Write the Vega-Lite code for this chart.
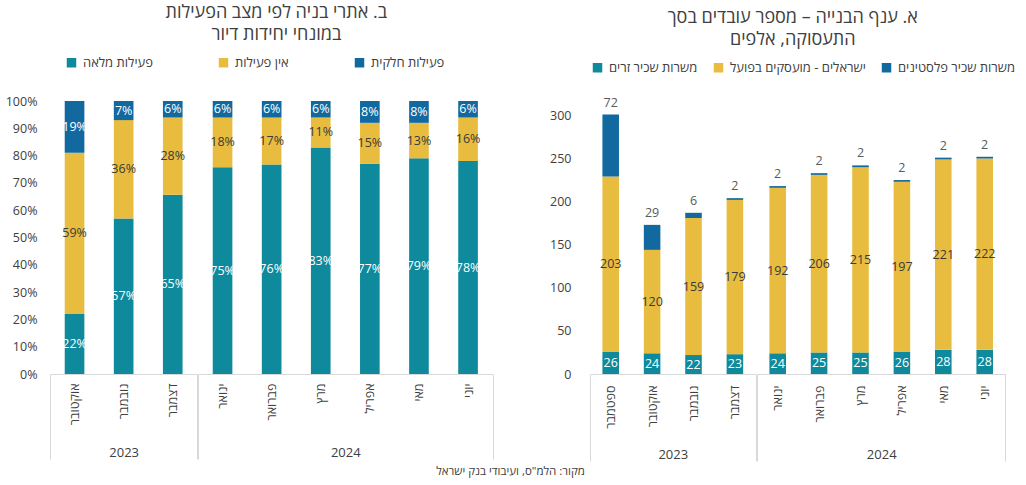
{
  "$schema": "https://vega.github.io/schema/vega-lite/v6.json",
  "padding": {"left": 5, "right": 5, "top": 4, "bottom": 4},
  "config": {
    "font": "Open Sans, Liberation Sans, DejaVu Sans, sans-serif",
    "view": {"stroke": null},
    "axis": {"grid": false},
    "concat": {"spacing": 0}
  },
  "datasets": {
    "left": [
      {"month": "אוקטובר", "year": "2023", "series": "פעילות מלאה", "k": 1, "v": 0.22},
      {"month": "אוקטובר", "year": "2023", "series": "אין פעילות", "k": 2, "v": 0.59},
      {"month": "אוקטובר", "year": "2023", "series": "פעילות חלקית", "k": 3, "v": 0.19},
      {"month": "נובמבר", "year": "2023", "series": "פעילות מלאה", "k": 1, "v": 0.57},
      {"month": "נובמבר", "year": "2023", "series": "אין פעילות", "k": 2, "v": 0.36},
      {"month": "נובמבר", "year": "2023", "series": "פעילות חלקית", "k": 3, "v": 0.07},
      {"month": "דצמבר", "year": "2023", "series": "פעילות מלאה", "k": 1, "v": 0.65},
      {"month": "דצמבר", "year": "2023", "series": "אין פעילות", "k": 2, "v": 0.28},
      {"month": "דצמבר", "year": "2023", "series": "פעילות חלקית", "k": 3, "v": 0.06},
      {"month": "ינואר", "year": "2024", "series": "פעילות מלאה", "k": 1, "v": 0.75},
      {"month": "ינואר", "year": "2024", "series": "אין פעילות", "k": 2, "v": 0.18},
      {"month": "ינואר", "year": "2024", "series": "פעילות חלקית", "k": 3, "v": 0.06},
      {"month": "פברואר", "year": "2024", "series": "פעילות מלאה", "k": 1, "v": 0.76},
      {"month": "פברואר", "year": "2024", "series": "אין פעילות", "k": 2, "v": 0.17},
      {"month": "פברואר", "year": "2024", "series": "פעילות חלקית", "k": 3, "v": 0.06},
      {"month": "מרץ", "year": "2024", "series": "פעילות מלאה", "k": 1, "v": 0.83},
      {"month": "מרץ", "year": "2024", "series": "אין פעילות", "k": 2, "v": 0.11},
      {"month": "מרץ", "year": "2024", "series": "פעילות חלקית", "k": 3, "v": 0.06},
      {"month": "אפריל", "year": "2024", "series": "פעילות מלאה", "k": 1, "v": 0.77},
      {"month": "אפריל", "year": "2024", "series": "אין פעילות", "k": 2, "v": 0.15},
      {"month": "אפריל", "year": "2024", "series": "פעילות חלקית", "k": 3, "v": 0.08},
      {"month": "מאי", "year": "2024", "series": "פעילות מלאה", "k": 1, "v": 0.79},
      {"month": "מאי", "year": "2024", "series": "אין פעילות", "k": 2, "v": 0.13},
      {"month": "מאי", "year": "2024", "series": "פעילות חלקית", "k": 3, "v": 0.08},
      {"month": "יוני", "year": "2024", "series": "פעילות מלאה", "k": 1, "v": 0.78},
      {"month": "יוני", "year": "2024", "series": "אין פעילות", "k": 2, "v": 0.16},
      {"month": "יוני", "year": "2024", "series": "פעילות חלקית", "k": 3, "v": 0.06}
    ],
    "right": [
      {"month": "ספטמבר", "year": "2023", "series": "משרות שכיר זרים", "k": 1, "v": 26},
      {"month": "ספטמבר", "year": "2023", "series": "ישראלים - מועסקים בפועל", "k": 2, "v": 203},
      {"month": "ספטמבר", "year": "2023", "series": "משרות שכיר פלסטינים", "k": 3, "v": 72},
      {"month": "אוקטובר", "year": "2023", "series": "משרות שכיר זרים", "k": 1, "v": 24},
      {"month": "אוקטובר", "year": "2023", "series": "ישראלים - מועסקים בפועל", "k": 2, "v": 120},
      {"month": "אוקטובר", "year": "2023", "series": "משרות שכיר פלסטינים", "k": 3, "v": 29},
      {"month": "נובמבר", "year": "2023", "series": "משרות שכיר זרים", "k": 1, "v": 22},
      {"month": "נובמבר", "year": "2023", "series": "ישראלים - מועסקים בפועל", "k": 2, "v": 159},
      {"month": "נובמבר", "year": "2023", "series": "משרות שכיר פלסטינים", "k": 3, "v": 6},
      {"month": "דצמבר", "year": "2023", "series": "משרות שכיר זרים", "k": 1, "v": 23},
      {"month": "דצמבר", "year": "2023", "series": "ישראלים - מועסקים בפועל", "k": 2, "v": 179},
      {"month": "דצמבר", "year": "2023", "series": "משרות שכיר פלסטינים", "k": 3, "v": 2},
      {"month": "ינואר", "year": "2024", "series": "משרות שכיר זרים", "k": 1, "v": 24},
      {"month": "ינואר", "year": "2024", "series": "ישראלים - מועסקים בפועל", "k": 2, "v": 192},
      {"month": "ינואר", "year": "2024", "series": "משרות שכיר פלסטינים", "k": 3, "v": 2},
      {"month": "פברואר", "year": "2024", "series": "משרות שכיר זרים", "k": 1, "v": 25},
      {"month": "פברואר", "year": "2024", "series": "ישראלים - מועסקים בפועל", "k": 2, "v": 206},
      {"month": "פברואר", "year": "2024", "series": "משרות שכיר פלסטינים", "k": 3, "v": 2},
      {"month": "מרץ", "year": "2024", "series": "משרות שכיר זרים", "k": 1, "v": 25},
      {"month": "מרץ", "year": "2024", "series": "ישראלים - מועסקים בפועל", "k": 2, "v": 215},
      {"month": "מרץ", "year": "2024", "series": "משרות שכיר פלסטינים", "k": 3, "v": 2},
      {"month": "אפריל", "year": "2024", "series": "משרות שכיר זרים", "k": 1, "v": 26},
      {"month": "אפריל", "year": "2024", "series": "ישראלים - מועסקים בפועל", "k": 2, "v": 197},
      {"month": "אפריל", "year": "2024", "series": "משרות שכיר פלסטינים", "k": 3, "v": 2},
      {"month": "מאי", "year": "2024", "series": "משרות שכיר זרים", "k": 1, "v": 28},
      {"month": "מאי", "year": "2024", "series": "ישראלים - מועסקים בפועל", "k": 2, "v": 221},
      {"month": "מאי", "year": "2024", "series": "משרות שכיר פלסטינים", "k": 3, "v": 2},
      {"month": "יוני", "year": "2024", "series": "משרות שכיר זרים", "k": 1, "v": 28},
      {"month": "יוני", "year": "2024", "series": "ישראלים - מועסקים בפועל", "k": 2, "v": 222},
      {"month": "יוני", "year": "2024", "series": "משרות שכיר פלסטינים", "k": 3, "v": 2}
    ]
  },
  "title": {"text": "מקור: הלמ\"ס, ועיבודי בנק ישראל", "orient": "bottom", "anchor": "middle", "fontSize": 11.5, "fontWeight": "normal", "color": "#404040", "offset": 4},
  "spacing": 55,
  "resolve": {"scale": {"color": "independent"}, "legend": {"color": "independent"}},
  "hconcat": [
    {
      "data": {"name": "left"},
      "title": {"text": ["ב. אתרי בניה לפי מצב הפעילות", "במונחי יחידות דיור"], "fontSize": 18, "fontWeight": "normal", "color": "#404040", "anchor": "middle", "frame": "bounds", "dx": 27, "lineHeight": 22, "offset": 12},
      "spacing": -6.5,
      "hconcat": [
        {
          "width": {"step": 49.1},
          "height": 273,
          "transform": [{"filter": "datum.year == '2023'"}],
          "encoding": {
            "x": {"field": "month", "type": "nominal", "sort": ["אוקטובר", "נובמבר", "דצמבר"], "scale": {"paddingInner": 0, "paddingOuter": 0},
              "axis": {"title": "2023", "titleFontSize": 13, "titleFontWeight": "normal", "titleColor": "#404040", "titlePadding": -13, "labelAngle": -90, "labelFontSize": 12.5, "labelColor": "#404040", "labelPadding": -76, "tickBand": "extent", "tickSize": 85, "tickColor": "#d9d9d9", "tickOpacity": {"condition": {"test": "datum.index < 0 || datum.index == 1 || datum.value == 'דצמבר' || datum.value == 'יוני'", "value": 1}, "value": 0}, "domainColor": "#d9d9d9"}}
          },
          "layer": [
            {
              "mark": {"type": "bar", "width": {"band": 0.4}},
              "encoding": {
                "y": {"field": "v", "type": "quantitative", "stack": "normalize", "scale": {"domain": [0, 1], "nice": false}, "axis": {"values": [0, 0.1, 0.2, 0.3, 0.4, 0.5, 0.6, 0.7, 0.8, 0.9, 1], "format": ".0%", "labelFontSize": 12.5, "labelColor": "#404040", "domain": false, "ticks": false, "labelPadding": 13, "title": null}},
                "color": {"field": "series", "type": "nominal", "scale": {"domain": ["פעילות מלאה", "אין פעילות", "פעילות חלקית"], "range": ["#0E8A9C", "#E8BC3F", "#11699F"]},
                  "legend": {"orient": "none", "legendX": 15, "legendY": -45, "direction": "horizontal", "title": null, "symbolType": "square", "symbolSize": 90, "symbolStrokeWidth": 0, "labelFontSize": 13, "labelColor": "#404040", "columnPadding": 64, "labelOffset": 5}},
                "order": {"field": "k", "type": "quantitative"}
              }
            },
            {
              "mark": {"type": "text", "fontSize": 12.5, "baseline": "middle"},
              "encoding": {
                "y": {"field": "v", "type": "quantitative", "stack": "normalize", "bandPosition": 0.5, "scale": {"domain": [0, 1], "nice": false}, "axis": {"values": [0, 0.1, 0.2, 0.3, 0.4, 0.5, 0.6, 0.7, 0.8, 0.9, 1], "format": ".0%", "labelFontSize": 12.5, "labelColor": "#404040", "domain": false, "ticks": false, "labelPadding": 13, "title": null}},
                "detail": {"field": "series", "type": "nominal"},
                "order": {"field": "k", "type": "quantitative"},
                "text": {"field": "v", "type": "quantitative", "format": ".0%"},
                "color": {"condition": {"test": "datum.series == 'אין פעילות'", "value": "#3a3a3a"}, "value": "#ffffff"}
              }
            }
          ]
        },
        {
          "width": {"step": 49.1},
          "height": 273,
          "transform": [{"filter": "datum.year == '2024'"}],
          "encoding": {
            "x": {"field": "month", "type": "nominal", "sort": ["ינואר", "פברואר", "מרץ", "אפריל", "מאי", "יוני"], "scale": {"paddingInner": 0, "paddingOuter": 0},
              "axis": {"title": "2024", "titleFontSize": 13, "titleFontWeight": "normal", "titleColor": "#404040", "titlePadding": -13, "labelAngle": -90, "labelFontSize": 12.5, "labelColor": "#404040", "labelPadding": -76, "tickBand": "extent", "tickSize": 85, "tickColor": "#d9d9d9", "tickOpacity": {"condition": {"test": "datum.index < 0 || datum.index == 1 || datum.value == 'דצמבר' || datum.value == 'יוני'", "value": 1}, "value": 0}, "domainColor": "#d9d9d9"}}
          },
          "layer": [
            {
              "mark": {"type": "bar", "width": {"band": 0.4}},
              "encoding": {
                "y": {"field": "v", "type": "quantitative", "stack": "normalize", "scale": {"domain": [0, 1], "nice": false}, "axis": null},
                "color": {"field": "series", "type": "nominal", "scale": {"domain": ["פעילות מלאה", "אין פעילות", "פעילות חלקית"], "range": ["#0E8A9C", "#E8BC3F", "#11699F"]},
                  "legend": {"orient": "none", "legendX": 15, "legendY": -45, "direction": "horizontal", "title": null, "symbolType": "square", "symbolSize": 90, "symbolStrokeWidth": 0, "labelFontSize": 13, "labelColor": "#404040", "columnPadding": 64, "labelOffset": 5}},
                "order": {"field": "k", "type": "quantitative"}
              }
            },
            {
              "mark": {"type": "text", "fontSize": 12.5, "baseline": "middle"},
              "encoding": {
                "y": {"field": "v", "type": "quantitative", "stack": "normalize", "bandPosition": 0.5, "scale": {"domain": [0, 1], "nice": false}, "axis": null},
                "detail": {"field": "series", "type": "nominal"},
                "order": {"field": "k", "type": "quantitative"},
                "text": {"field": "v", "type": "quantitative", "format": ".0%"},
                "color": {"condition": {"test": "datum.series == 'אין פעילות'", "value": "#3a3a3a"}, "value": "#ffffff"}
              }
            }
          ]
        }
      ]
    },
    {
      "data": {"name": "right"},
      "title": {"text": ["א. ענף הבנייה – מספר עובדים בסך", "התעסוקה, אלפים"], "fontSize": 18, "fontWeight": "normal", "color": "#404040", "anchor": "middle", "frame": "bounds", "dx": 10, "lineHeight": 22, "offset": 12},
      "spacing": -8.4,
      "hconcat": [
        {
          "width": {"step": 41.4},
          "height": 273,
          "transform": [{"filter": "datum.year == '2023'"}],
          "encoding": {
            "x": {"field": "month", "type": "nominal", "sort": ["ספטמבר", "אוקטובר", "נובמבר", "דצמבר"], "scale": {"paddingInner": 0, "paddingOuter": 0},
              "axis": {"title": "2023", "titleFontSize": 13, "titleFontWeight": "normal", "titleColor": "#404040", "titlePadding": -13, "labelAngle": -90, "labelFontSize": 12.5, "labelColor": "#404040", "labelPadding": -76, "tickBand": "extent", "tickSize": 87, "tickColor": "#d9d9d9", "tickOpacity": {"condition": {"test": "datum.index < 0 || datum.index == 1 || datum.value == 'דצמבר' || datum.value == 'יוני'", "value": 1}, "value": 0}, "domainColor": "#d9d9d9"}}
          },
          "layer": [
            {
              "mark": {"type": "bar", "width": {"band": 0.4}},
              "encoding": {
                "y": {"field": "v", "type": "quantitative", "stack": "zero", "scale": {"domain": [0, 316.7], "nice": false}, "axis": {"values": [0, 50, 100, 150, 200, 250, 300], "labelFontSize": 12.5, "labelColor": "#404040", "domain": false, "ticks": false, "labelPadding": 19, "title": null}},
                "color": {"field": "series", "type": "nominal", "scale": {"domain": ["משרות שכיר זרים", "ישראלים - מועסקים בפועל", "משרות שכיר פלסטינים"], "range": ["#0E8A9C", "#E8BC3F", "#11699F"]},
                  "legend": {"orient": "none", "legendX": 1, "legendY": -40, "direction": "horizontal", "title": null, "symbolType": "square", "symbolSize": 90, "symbolStrokeWidth": 0, "labelFontSize": 13, "labelColor": "#404040", "columnPadding": 14, "labelOffset": 5}},
                "order": {"field": "k", "type": "quantitative"}
              }
            },
            {
              "mark": {"type": "text", "fontSize": 12.5, "baseline": "middle"},
              "encoding": {
                "y": {"field": "v", "type": "quantitative", "stack": "zero", "bandPosition": 0.5, "scale": {"domain": [0, 316.7], "nice": false}, "axis": {"values": [0, 50, 100, 150, 200, 250, 300], "labelFontSize": 12.5, "labelColor": "#404040", "domain": false, "ticks": false, "labelPadding": 19, "title": null}},
                "detail": {"field": "series", "type": "nominal"},
                "order": {"field": "k", "type": "quantitative"},
                "text": {"condition": {"test": "datum.series != 'משרות שכיר פלסטינים'", "field": "v", "type": "quantitative"}, "value": ""},
                "color": {"condition": {"test": "datum.series == 'ישראלים - מועסקים בפועל'", "value": "#3a3a3a"}, "value": "#ffffff"}
              }
            },
            {
              "mark": {"type": "text", "fontSize": 12.5, "baseline": "bottom", "dy": -5, "color": "#595959"},
              "encoding": {
                "y": {"field": "v", "type": "quantitative", "stack": "zero", "scale": {"domain": [0, 316.7], "nice": false}, "axis": {"values": [0, 50, 100, 150, 200, 250, 300], "labelFontSize": 12.5, "labelColor": "#404040", "domain": false, "ticks": false, "labelPadding": 19, "title": null}},
                "detail": {"field": "series", "type": "nominal"},
                "order": {"field": "k", "type": "quantitative"},
                "text": {"condition": {"test": "datum.series == 'משרות שכיר פלסטינים'", "field": "v", "type": "quantitative"}, "value": ""}
              }
            }
          ]
        },
        {
          "width": {"step": 41.4},
          "height": 273,
          "transform": [{"filter": "datum.year == '2024'"}],
          "encoding": {
            "x": {"field": "month", "type": "nominal", "sort": ["ינואר", "פברואר", "מרץ", "אפריל", "מאי", "יוני"], "scale": {"paddingInner": 0, "paddingOuter": 0},
              "axis": {"title": "2024", "titleFontSize": 13, "titleFontWeight": "normal", "titleColor": "#404040", "titlePadding": -13, "labelAngle": -90, "labelFontSize": 12.5, "labelColor": "#404040", "labelPadding": -76, "tickBand": "extent", "tickSize": 87, "tickColor": "#d9d9d9", "tickOpacity": {"condition": {"test": "datum.index < 0 || datum.index == 1 || datum.value == 'דצמבר' || datum.value == 'יוני'", "value": 1}, "value": 0}, "domainColor": "#d9d9d9"}}
          },
          "layer": [
            {
              "mark": {"type": "bar", "width": {"band": 0.4}},
              "encoding": {
                "y": {"field": "v", "type": "quantitative", "stack": "zero", "scale": {"domain": [0, 316.7], "nice": false}, "axis": null},
                "color": {"field": "series", "type": "nominal", "scale": {"domain": ["משרות שכיר זרים", "ישראלים - מועסקים בפועל", "משרות שכיר פלסטינים"], "range": ["#0E8A9C", "#E8BC3F", "#11699F"]},
                  "legend": {"orient": "none", "legendX": 1, "legendY": -40, "direction": "horizontal", "title": null, "symbolType": "square", "symbolSize": 90, "symbolStrokeWidth": 0, "labelFontSize": 13, "labelColor": "#404040", "columnPadding": 14, "labelOffset": 5}},
                "order": {"field": "k", "type": "quantitative"}
              }
            },
            {
              "mark": {"type": "text", "fontSize": 12.5, "baseline": "middle"},
              "encoding": {
                "y": {"field": "v", "type": "quantitative", "stack": "zero", "bandPosition": 0.5, "scale": {"domain": [0, 316.7], "nice": false}, "axis": null},
                "detail": {"field": "series", "type": "nominal"},
                "order": {"field": "k", "type": "quantitative"},
                "text": {"condition": {"test": "datum.series != 'משרות שכיר פלסטינים'", "field": "v", "type": "quantitative"}, "value": ""},
                "color": {"condition": {"test": "datum.series == 'ישראלים - מועסקים בפועל'", "value": "#3a3a3a"}, "value": "#ffffff"}
              }
            },
            {
              "mark": {"type": "text", "fontSize": 12.5, "baseline": "bottom", "dy": -5, "color": "#595959"},
              "encoding": {
                "y": {"field": "v", "type": "quantitative", "stack": "zero", "scale": {"domain": [0, 316.7], "nice": false}, "axis": null},
                "detail": {"field": "series", "type": "nominal"},
                "order": {"field": "k", "type": "quantitative"},
                "text": {"condition": {"test": "datum.series == 'משרות שכיר פלסטינים'", "field": "v", "type": "quantitative"}, "value": ""}
              }
            }
          ]
        }
      ]
    }
  ]
}
